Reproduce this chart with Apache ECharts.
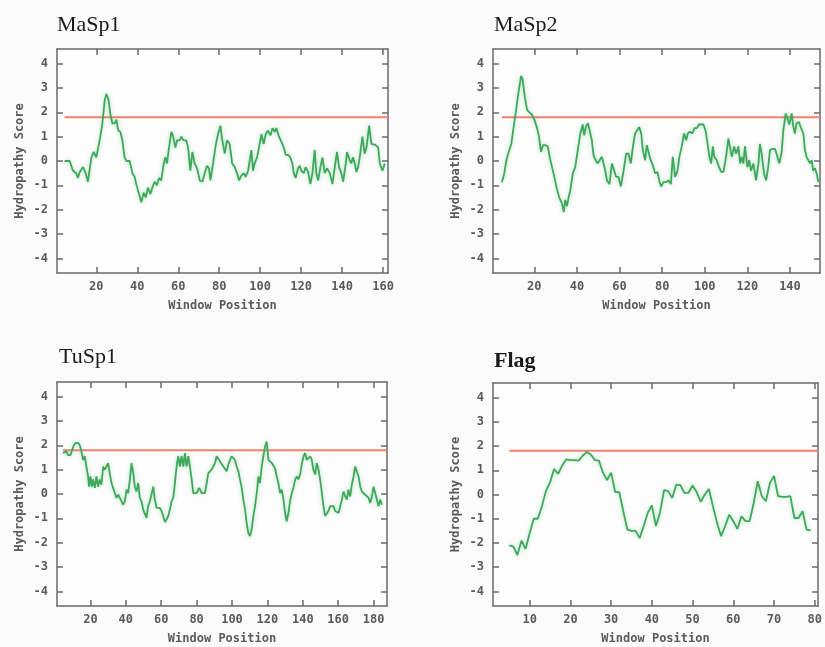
<!DOCTYPE html>
<html>
<head>
<meta charset="utf-8">
<script src="https://cdn.jsdelivr.net/npm/echarts@6/dist/echarts.min.js"></script>
<style>
  html, body { margin: 0; padding: 0; background: #fbfbfb; }
  #chart { width: 825px; height: 647px; }
</style>
</head>
<body>
<div id="chart"></div>
<script>
// hydropathy profiles, [window position, score]
const masp1 = [[4.5,0],[7,0],[8.6,-0.4],[10.2,-0.5],[11,-0.7],[11.9,-0.45],[13.5,-0.25],[14.8,-0.5],[15.9,-0.85],[17.6,0.15],[18.7,0.37],[20,0.15],[21.6,0.85],[22.9,1.5],[24.1,2.5],[24.9,2.75],[26,2.5],[26.8,1.95],[27.8,1.55],[29,1.55],[29.8,1.7],[30.7,1.25],[31.7,1.2],[32.7,0.85],[33.8,0.15],[34.7,0],[36.3,0],[37.6,-0.5],[38.7,-0.65],[39.5,-0.95],[40.8,-1.35],[42,-1.7],[43.1,-1.3],[44.1,-1.5],[45.2,-1.1],[46.4,-1.35],[47.3,-1.1],[48.5,-0.85],[49.6,-1],[50.6,-0.7],[51.7,-0.8],[52.9,-0.1],[53.7,0.15],[54.5,-0.1],[55.5,0.55],[56.6,1.2],[57.4,1.05],[58.6,0.55],[59.4,0.85],[60.7,0.85],[61.5,1],[62.6,0.85],[63.9,0.85],[64.8,0.55],[65.9,-0.4],[66.9,0.37],[68,-0.1],[69.2,-0.3],[70.5,-0.8],[71.8,-0.85],[72.9,-0.5],[74,-0.2],[75,-0.3],[75.7,-0.8],[77,-0.1],[78.3,0.65],[79.4,1.1],[80.6,1.45],[81.5,0.85],[82.7,0.3],[83.8,0.85],[85.1,0.7],[86.3,-0.1],[87.6,-0.25],[88.7,-0.5],[89.7,-0.8],[90.8,-0.6],[92,-0.5],[92.9,-0.65],[94.1,-0.4],[94.9,-0.45],[95.7,0.45],[96.5,-0.4],[97.3,-0.1],[98.5,0.15],[99.4,0.55],[100.6,1.1],[101.7,0.7],[102.7,1.1],[103.8,1.25],[105,1.05],[106,1.35],[107.1,1.2],[107.9,1.35],[109.2,1],[110.3,0.8],[111.5,0.55],[112.5,0.25],[113.6,0.25],[114.7,0.15],[115.7,-0.1],[116.4,-0.5],[117.3,-0.7],[118.5,-0.3],[119.3,-0.2],[120.1,-0.4],[121.3,-0.5],[122.2,-0.25],[123.4,-0.45],[124.5,-0.95],[125.5,-0.5],[126.6,0.45],[127.4,-0.5],[128.3,-0.8],[129.4,-0.25],[130.4,0.15],[131.5,-0.5],[132.6,-0.3],[134,-0.5],[135.3,-0.95],[136.4,-0.25],[137.5,0.37],[138.5,-0.25],[139.6,-0.5],[140.5,-0.85],[141.8,-0.1],[142.4,0.37],[143.7,0.03],[144.5,-0.1],[145.3,0.15],[146.2,-0.1],[147,-0.45],[147.8,-0.25],[148.6,0.15],[149.9,1],[151,0.3],[151.9,0.55],[153.2,1.45],[154.3,0.7],[155.1,0.7],[156.4,0.65],[157.6,0.55],[158.4,-0.1],[159.7,-0.4],[160.8,-0.1]];

const masp2 = [[4.8,-0.87],[5.9,-0.5],[6.9,0.03],[7.7,0.3],[8.4,0.23],[9.2,0.7],[10.3,1.4],[11.6,2.2],[12.7,2.9],[13.8,3.5],[14.5,3.35],[15.5,2.65],[16.6,2.1],[17.7,2],[18.9,1.9],[20,1.7],[21.3,1.35],[22.2,1],[23.1,0.37],[24.1,0.65],[25.2,0.65],[26.3,0.6],[27.2,0.17],[28.3,-0.25],[29.4,-0.65],[30.6,-1.15],[31.7,-1.5],[33,-1.75],[33.8,-2.1],[34.5,-1.6],[35.3,-1.85],[36.1,-1.5],[36.9,-1.2],[38.1,-0.5],[39.2,-0.25],[40.5,0.5],[41.6,1.13],[42.7,1.5],[43.4,1.05],[44.2,1.4],[45.2,1.55],[45.9,1.5],[47,0.85],[47.8,0.23],[48.8,0.03],[49.7,-0.1],[50.6,-0.1],[51.7,0.17],[52.5,-0.1],[53.3,-0.4],[54.1,-0.8],[55.3,-0.95],[56.4,-0.1],[57.5,-0.4],[58.4,-0.65],[59.5,-0.65],[60.6,-1.05],[61.9,-0.4],[63.1,0.3],[64.2,0.3],[65.3,-0.1],[66.3,0.6],[67.3,1.13],[68.1,1.13],[69.2,1.4],[70.2,1.13],[70.9,0.45],[72,0.03],[72.8,0.65],[73.6,0.6],[74.4,0.1],[75.6,-0.18],[76.7,-0.5],[77.8,-0.45],[78.8,-0.87],[79.5,-1.05],[80.6,-0.87],[81.7,-0.87],[83,-0.8],[84.1,-0.95],[85,0.17],[86.1,-0.65],[87.2,-0.4],[88.1,0.17],[89.2,0.6],[90.3,1.13],[91.3,0.85],[92,1.13],[93.1,1.2],[94.2,1.13],[95.2,1.35],[96.3,1.35],[97.3,1.5],[98.3,1.5],[99.4,1.5],[100.5,1.2],[101.4,1.13],[102.2,0.17],[103,-0.1],[103.8,0.6],[104.5,0.17],[105.6,0.03],[106.7,-0.25],[107.7,-0.45],[108.8,-0.45],[110,0.17],[111.1,0.93],[111.9,1],[112.7,0.17],[113.8,0.6],[114.7,0.3],[115.8,0.6],[116.6,-0.1],[117.3,0.17],[118.1,-0.1],[118.9,0.6],[120,-0.25],[120.9,0.03],[121.7,-0.4],[122.8,-0.1],[124.1,-0.8],[125.2,-0.1],[125.9,0.7],[126.7,0.3],[127.8,-0.5],[128.8,-0.8],[129.8,-0.25],[130.6,0.45],[131.9,0.5],[133,0.5],[133.8,0.5],[135,-0.1],[136.1,0.37],[136.9,1.27],[138,1.95],[138.8,1.75],[139.7,1.5],[140.8,1.95],[141.6,1.4],[142.3,1.13],[143.1,1.55],[144.2,1.6],[145.2,1.35],[146.3,1.13],[147,0.45],[147.8,0.17],[148.6,0.23],[149.4,-0.1],[150.2,0.03],[150.9,-0.4],[151.7,-0.3],[152.5,-0.5],[153.3,-0.87]];

const tusp1 = [[4.5,1.68],[6.4,1.75],[7.4,1.6],[8.7,1.6],[9.8,1.68],[10.6,2],[11.7,2.1],[13,2.1],[14,2],[14.9,1.75],[15.8,1.4],[16.8,1.55],[17.7,1.13],[18.7,0.72],[19.2,0.3],[20,0.72],[20.8,0.3],[21.5,0.6],[22.5,0.25],[23.4,0.72],[24.3,0.3],[25.3,0.6],[26.2,0.38],[27.2,1.13],[28.1,1],[29.1,1.13],[30,1.27],[30.9,0.86],[31.9,0.45],[32.8,0.25],[33.8,0.04],[34.7,-0.16],[35.7,-0.03],[36.6,-0.16],[37.5,-0.16],[38.5,-0.44],[39.4,-0.3],[40.4,0.18],[41.3,0.04],[42.3,0.6],[43.2,1.27],[44.2,0.86],[45.1,0.3],[46,0.1],[47,0.45],[47.9,-0.16],[48.9,-0.3],[49.8,-0.64],[50.8,-0.57],[51.7,-0.98],[52.6,-0.5],[53.6,-0.3],[54.5,-0.23],[55.5,0.3],[56.4,-0.23],[57.4,-0.57],[58.3,-0.64],[59.2,-0.57],[60.2,-0.7],[61.1,-0.64],[62.1,-1.15],[63,-1.05],[64,-0.9],[64.9,-0.64],[65.8,-0.3],[66.8,-0.16],[67.7,0.45],[68.7,1.13],[69.6,1.55],[70.6,1.13],[71.5,1.55],[72.5,1.13],[73.4,1.68],[74.3,1.13],[75.3,1.55],[76.2,1.13],[77.2,0.6],[78.1,0.04],[80,0.04],[81.5,0.25],[82.8,0.04],[84.7,0.04],[85.7,0.45],[86.6,0.86],[87.5,0.8],[88.5,1],[89.4,1.13],[90.4,1.27],[91.3,1.55],[92.3,1.57],[93.2,1.34],[94.2,1.4],[95.1,1.13],[96,1.13],[97,0.93],[97.9,1.2],[98.9,1.4],[99.8,1.55],[100.8,1.55],[101.7,1.4],[102.6,1.13],[103.6,0.93],[104.5,0.6],[105.5,0.25],[106.4,-0.23],[107.4,-0.64],[108.3,-1.2],[109.2,-1.6],[110.2,-1.73],[111.1,-1.46],[112.1,-0.9],[113,-0.5],[114,0.04],[114.9,0.72],[115.8,0.45],[116.8,1.13],[117.7,1.55],[118.7,1.95],[119.6,2.15],[120.6,1.4],[121.5,1.34],[122.5,1.27],[123.4,1.27],[124.3,1.06],[125.3,0.72],[126.2,0.45],[127.2,0.04],[128.1,0.18],[129.1,-0.23],[130,-0.78],[130.9,-1.12],[131.9,-0.78],[132.8,-0.3],[133.8,0.04],[134.7,0.25],[135.7,0.6],[136.6,0.72],[137.5,0.6],[138.5,0.8],[139.4,1.2],[140.4,1.55],[141.3,1.68],[142.3,1.4],[143.2,1.47],[144.2,1.55],[145.1,1.4],[146,1],[147,0.8],[147.9,1.27],[148.9,1],[149.8,0.6],[150.8,0.04],[151.7,-0.5],[152.6,-0.9],[153.6,-0.98],[154.5,-0.7],[155.5,-0.5],[156.4,-0.5],[157.4,-0.5],[158.3,-0.7],[159.2,-0.78],[160.2,-0.78],[161.1,-0.7],[162.1,-0.23],[163,0.1],[164,-0.1],[164.9,-0.23],[165.8,0.18],[166.8,-0.1],[167.7,0.38],[168.7,0.72],[169.6,1.13],[170.6,1.13],[171.5,0.72],[172.5,0.3],[173.4,0.1],[174.3,0.04],[175.3,-0.03],[176.2,-0.03],[177.2,-0.16],[178.1,-0.37],[179.1,-0.1],[180,0.3],[180.9,0.04],[181.9,0.04],[182.8,-0.5],[183.8,-0.23],[184.7,-0.44]];

// flag: one score per window position starting at 5
const flagStart = 5;
const flagScores = [-2.1,-2.15,-2.5,-1.9,-2.25,-1.6,-1.0,-1.0,-0.5,0.15,
  0.5,1.05,0.85,1.2,1.45,1.42,1.42,1.4,1.6,1.75,
  1.65,1.42,1.4,0.9,0.6,0.9,0.1,0.1,-0.7,-1.45,
  -1.5,-1.5,-1.8,-1.3,-0.75,-0.45,-1.3,-0.75,0.18,0.14,
  -0.14,0.41,0.39,0.07,0.07,0.37,0.1,-0.3,0,0.23,
  -0.48,-1.17,-1.72,-1.3,-0.83,-1.1,-1.42,-0.9,-1.1,-1.1,
  -0.35,0.55,-0.07,-0.28,0.48,0.76,-0.07,-0.1,-0.1,-0.07,
  -0.97,-0.97,-0.69,-1.45,-1.48];

const threshold = 1.8;
const yTicks = [-4, -3, -2, -1, 0, 1, 2, 3, 4];
const xTicks1 = [20, 40, 60, 80, 100, 120, 140, 160];
const xTicks2 = [20, 40, 60, 80, 100, 120, 140];
const xTicks3 = [20, 40, 60, 80, 100, 120, 140, 160, 180];
const xTicks4 = [10, 20, 30, 40, 50, 60, 70, 80];
const titles = ["MaSp1", "MaSp2", "TuSp1", "Flag"];

var flag = flagScores.map(function(v, i) { return [flagStart + i, v]; });

var panels = [
  { title: titles[0], data: masp1, ticks: xTicks1, xmin: 0.8, xmax: 162.4,
    left: 57, top: 49, width: 331, height: 224, tLeft: 52, tTop: 9, bold: false },
  { title: titles[1], data: masp2, ticks: xTicks2, xmin: 0.6, xmax: 154.1,
    left: 493, top: 49, width: 327, height: 224, tLeft: 489, tTop: 9, bold: false },
  { title: titles[2], data: tusp1, ticks: xTicks3, xmin: 1.1, xmax: 187.6,
    left: 57, top: 382, width: 330, height: 224, tLeft: 54, tTop: 341, bold: false },
  { title: titles[3], data: flag, ticks: xTicks4, xmin: 1.0, xmax: 80.8,
    left: 493, top: 383, width: 330, height: 223, tLeft: 489, tTop: 345, bold: true }
];

var mono = "DejaVu Sans Mono";
var axisCol = "#6a6a6a";
var labelCol = "#5a5a5a";

var option = {
  backgroundColor: "#fbfbfb",
  animation: false,
  title: [], grid: [], xAxis: [], yAxis: [], series: []
};

panels.forEach(function(p, i) {
  option.title.push({
    text: p.title, left: p.tLeft, top: p.tTop,
    textStyle: { fontFamily: "Liberation Serif", fontSize: 22,
      fontWeight: p.bold ? "bold" : "normal", color: "#1a1a1a" }
  });
  option.grid.push({ left: p.left, top: p.top, width: p.width, height: p.height,
    show: true, backgroundColor: "#fdfdfd", borderWidth: 0 });

  var line = { show: true, onZero: false, lineStyle: { color: axisCol, width: 1.5 } };
  var tickX = { show: true, inside: true, length: 6, customValues: p.ticks,
    lineStyle: { color: axisCol, width: 1.5 } };
  var tickY = { show: true, inside: true, length: 6, customValues: yTicks,
    lineStyle: { color: axisCol, width: 1.5 } };

  // bottom + top x axes
  option.xAxis.push({
    type: "value", gridIndex: i, min: p.xmin, max: p.xmax, position: "bottom",
    axisLine: line, axisTick: tickX, splitLine: { show: false },
    axisLabel: { customValues: p.ticks, color: labelCol, fontFamily: mono,
      fontSize: 12, fontWeight: "bold", margin: 8 },
    name: "Window Position", nameLocation: "middle", nameGap: 27,
    nameTextStyle: { fontFamily: mono, fontSize: 12, fontWeight: "bold", color: labelCol }
  });
  option.xAxis.push({
    type: "value", gridIndex: i, min: p.xmin, max: p.xmax, position: "top",
    axisLine: line, axisTick: tickX, splitLine: { show: false },
    axisLabel: { show: false }
  });
  // left + right y axes
  option.yAxis.push({
    type: "value", gridIndex: i, min: -4.6, max: 4.6, position: "left",
    axisLine: line, axisTick: tickY, splitLine: { show: false },
    axisLabel: { customValues: yTicks, color: labelCol, fontFamily: mono,
      fontSize: 12, fontWeight: "bold", margin: 9 },
    name: "Hydropathy Score", nameLocation: "middle", nameGap: 31,
    nameTextStyle: { fontFamily: mono, fontSize: 12, fontWeight: "bold", color: labelCol }
  });
  option.yAxis.push({
    type: "value", gridIndex: i, min: -4.6, max: 4.6, position: "right",
    axisLine: line, axisTick: tickY, splitLine: { show: false },
    axisLabel: { show: false }
  });

  option.series.push({
    type: "line", xAxisIndex: 2 * i, yAxisIndex: 2 * i,
    data: [[p.data[0][0], threshold], [p.xmax, threshold]],
    symbol: "none", silent: true,
    lineStyle: { color: "#f0826e", width: 2 }
  });
  option.series.push({
    type: "line", xAxisIndex: 2 * i, yAxisIndex: 2 * i,
    data: p.data, symbol: "none", silent: true,
    lineStyle: { color: "#3fa85c", width: 1.8,
      shadowColor: "rgba(80,190,110,0.45)", shadowBlur: 4 }
  });
});

var myChart = echarts.init(document.getElementById("chart"));
myChart.setOption(option);
</script>
</body>
</html>
